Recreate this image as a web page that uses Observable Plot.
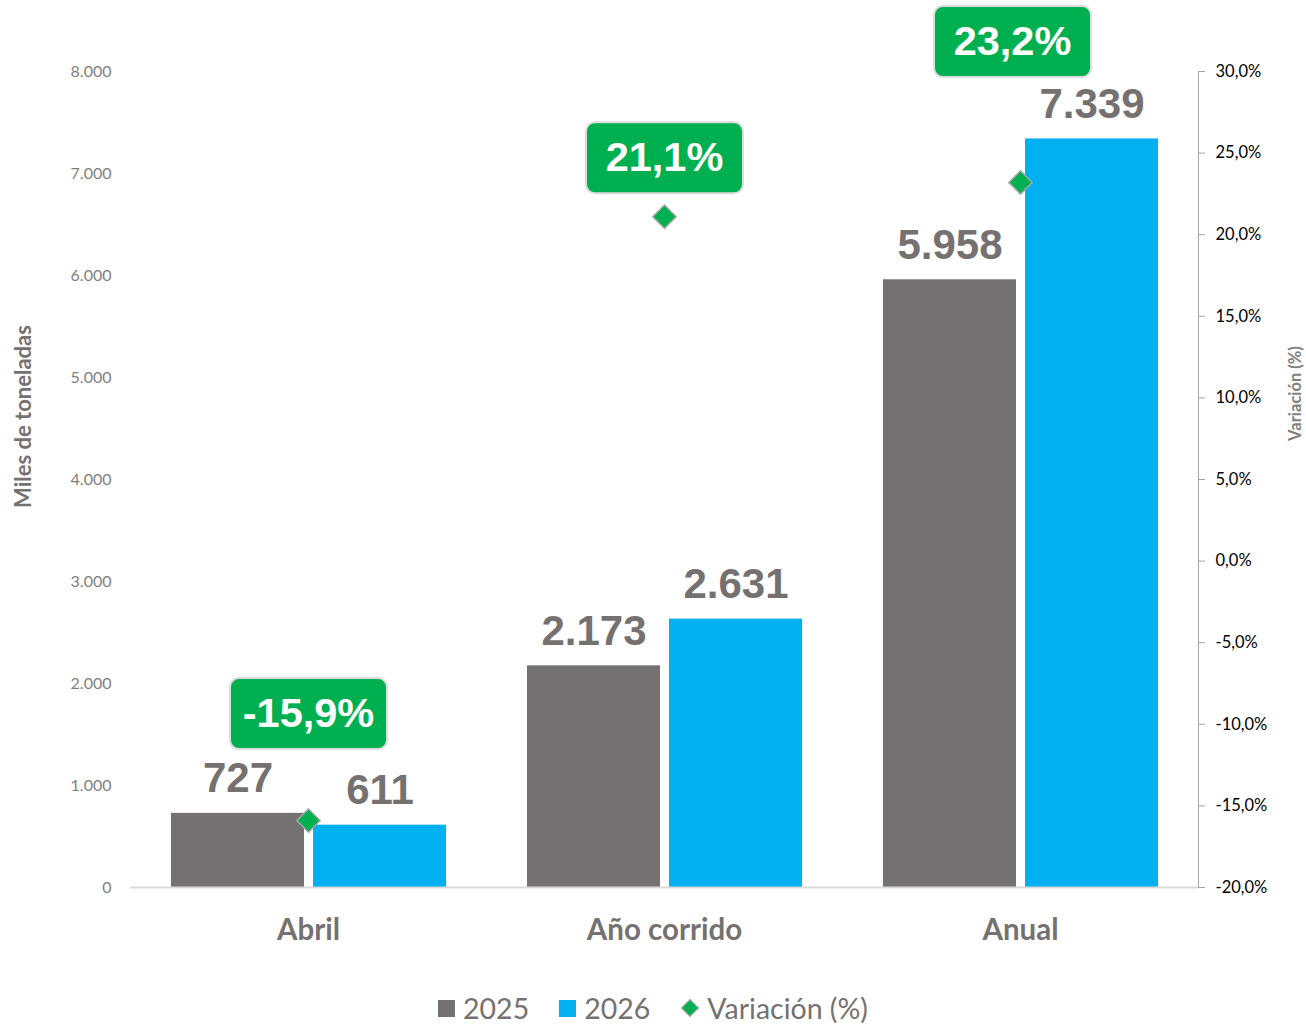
<!DOCTYPE html>
<html>
<head>
<meta charset="utf-8">
<script src="https://cdn.jsdelivr.net/npm/d3@7"></script>
<script src="https://cdn.jsdelivr.net/npm/@observablehq/plot@0.6"></script>
<style>
  body { margin: 0; background: #fff; }
  #chart { width: 1306px; }
  .legend { width: 1306px; height: 50px; display: flex; justify-content: center; align-items: center;
            font-family: Lato, sans-serif; font-size: 28.5px; color: #767171; padding-top: 16px; box-sizing: border-box; }
  .legend .item { display: flex; align-items: center; margin: 0 15px; }
  .legend .sw { display: inline-block; width: 17px; height: 17px; margin-right: 8px; }
  .legend svg { margin-right: 7px; }
</style>
</head>
<body>
<div id="chart"></div>
<div class="legend" id="legend"></div>
<script>
// ---- data ----
const categories = ["Abril", "Año corrido", "Anual"];
const years = ["2025", "2026"];
const values2025 = [727, 2173, 5958];
const values2026 = [611, 2631, 7339];
const variation = [-15.9, 21.1, 23.2];
const leftTicks = [0, 1000, 2000, 3000, 4000, 5000, 6000, 7000, 8000];
const rightTicks = [-20, -15, -10, -5, 0, 5, 10, 15, 20, 25, 30];

// ---- layout (callout pixel shifts relative to the marker) ----
const calloutShift = [[0, -107], [0, -59], [-8, -141]];

const colors = ["#767171", "#00B0F0"];
const green = "#00B050";

const loc = d3.formatLocale({decimal: ",", thousands: ".", grouping: [3], currency: ["$", ""], minus: "-"});
const fmtInt = loc.format(",d");
const fmt1 = loc.format(".1f");
const fmtPct = p => fmt1(p) + "%";

const yMax = leftTicks[leftTicks.length - 1];
const pMin = rightTicks[0], pMax = rightTicks[rightTicks.length - 1];
const pctToY = p => (p - pMin) / (pMax - pMin) * yMax;
const yToPct = y => y / yMax * (pMax - pMin) + pMin;

const rows = categories.flatMap((c, i) => [
  {category: c, year: years[0], value: values2025[i]},
  {category: c, year: years[1], value: values2026[i]}
]);
const varRows = categories.map((c, i) => ({category: c, pct: variation[i]}));

const roundRect = {
  draw(ctx) {
    const w = 157 / 2, h = 71 / 2, r = 9;
    ctx.moveTo(-w + r, -h);
    ctx.lineTo(w - r, -h);
    ctx.arcTo(w, -h, w, -h + r, r);
    ctx.lineTo(w, h - r);
    ctx.arcTo(w, h, w - r, h, r);
    ctx.lineTo(-w + r, h);
    ctx.arcTo(-w, h, -w, h - r, r);
    ctx.lineTo(-w, -h + r);
    ctx.arcTo(-w, -h, -w + r, -h, r);
    ctx.closePath();
  }
};

const callouts = varRows.flatMap((d, i) => [
  Plot.dot([d], {fx: "category", y: v => pctToY(v.pct), symbol: roundRect, r: 1,
    fill: green, stroke: "#dcdcdc", strokeWidth: 2, dx: calloutShift[i][0], dy: calloutShift[i][1]}),
  Plot.text([d], {fx: "category", y: v => pctToY(v.pct), text: v => fmtPct(v.pct),
    dx: calloutShift[i][0], dy: calloutShift[i][1], fill: "#fff", fontSize: 41.5, fontWeight: "bold",
    fontFamily: "Liberation Sans, Arial, sans-serif"})
]);

const plot = Plot.plot({
  width: 1306,
  height: 975,
  marginLeft: 130,
  marginRight: 108,
  marginTop: 71,
  marginBottom: 88,
  style: {fontFamily: "Lato, sans-serif", background: "#fff", overflow: "visible"},
  fx: {domain: categories, padding: 0, label: null},
  x: {domain: years, paddingInner: 0.0634, paddingOuter: 0.285, axis: null},
  y: {domain: [0, yMax], label: null},
  color: {domain: years, range: colors},
  marks: [
    Plot.axisFx({anchor: "bottom", tickSize: 0, tickPadding: 32, fontSize: 29.5, fontWeight: "bold",
      fill: "#767171", label: null}),
    Plot.axisY({ticks: leftTicks, tickSize: 0, tickPadding: 19, tickFormat: d => fmtInt(d),
      fontSize: 16, fill: "#7f7f7f", label: "Miles de toneladas", labelAnchor: "center",
      labelArrow: "none", labelOffset: 108}),
    Plot.axisY({anchor: "right", ticks: rightTicks.map(pctToY), tickFormat: t => fmtPct(Math.round(yToPct(t) * 10) / 10),
      tickSize: 6, tickPadding: 11, stroke: "#a6a6a6", fill: "#000", fontSize: 16.5,
      label: "Variación (%)", labelAnchor: "center", labelArrow: "none", labelOffset: 102}),
    Plot.frame({anchor: "right", stroke: "#a6a6a6", facetAnchor: "right"}),
    Plot.barY(rows, {fx: "category", x: "year", y: "value", fill: "year"}),
    Plot.ruleY([0], {stroke: "#d9d9d9", strokeWidth: 2}),
    Plot.text(rows, {fx: "category", x: "year", y: "value", text: d => fmtInt(d.value),
      lineAnchor: "bottom", dy: -21, fontSize: 42, fontWeight: "bold", fill: "#767171",
      fontFamily: "Liberation Sans, Arial, sans-serif"}),
    Plot.dot(varRows, {fx: "category", y: d => pctToY(d.pct), symbol: "diamond2", r: 10.5,
      fill: green, stroke: "#a6a6a6", strokeWidth: 1.5}),
    ...callouts
  ]
});

document.getElementById("chart").appendChild(plot);

// style axis titles (rotated -90: dx moves up, dy moves right)
d3.select(plot).selectAll('g[aria-label="y-axis label"] text').each(function() {
  const t = d3.select(this);
  const isLeft = t.text().startsWith("Miles");
  t.attr("font-weight", "bold")
   .attr("fill", isLeft ? "#767171" : "#7f7f7f")
   .attr("font-size", isLeft ? 22 : 16.5)
   .attr("dx", isLeft ? 63 : 86);
  const b = this.getBoundingClientRect();
  const sv = plot.getBoundingClientRect();
  const cx = (b.left + b.right) / 2 - sv.left;
  const target = isLeft ? 22 : 1295;
  t.attr("dy", (+t.attr("dy") || 0) + (target - cx));
});

// legend
const legend = d3.select("#legend");
years.forEach((y, i) => {
  const it = legend.append("span").attr("class", "item");
  it.append("span").attr("class", "sw").style("background", colors[i]);
  it.append("span").text(y);
});
const it = legend.append("span").attr("class", "item");
it.append("svg").attr("width", 20).attr("height", 20)
  .append("path").attr("d", "M10,1.5L18.5,10L10,18.5L1.5,10Z")
  .attr("fill", green).attr("stroke", "#a6a6a6").attr("stroke-width", 1.2);
it.append("span").text("Variación (%)");
</script>
</body>
</html>
